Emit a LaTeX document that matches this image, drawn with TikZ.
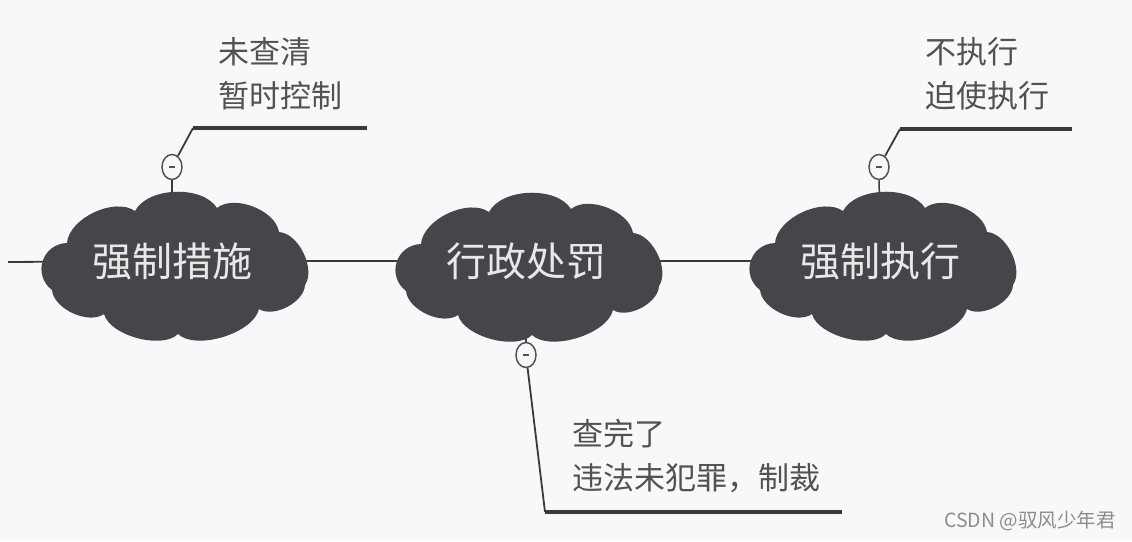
\documentclass[tikz,border=0pt]{standalone}
\usepackage{fontspec}
\newfontfamily\cjk{Noto Sans CJK SC}
\usetikzlibrary{shapes.geometric}
\definecolor{bgc}{RGB}{248,247,250}
\definecolor{cloudc}{RGB}{71,69,74}
\definecolor{linec}{RGB}{58,58,60}
\definecolor{labc}{RGB}{82,82,84}
\definecolor{cloudtxt}{RGB}{232,232,234}
\definecolor{wmc}{RGB}{140,140,142}
\pgfdeclarelayer{bg}
\pgfdeclarelayer{mid}
\pgfsetlayers{bg,mid,main}
\tikzset{
  cloudtext/.style={inner sep=0pt, text=cloudtxt, font=\cjk\fontsize{40}{48}\selectfont},
  labeltext/.style={inner sep=0pt, anchor=west, align=left, text=labc, font=\cjk\fontsize{31}{44}\selectfont},
  togglec/.style={ellipse, draw=labc, line width=1.5pt, fill=bgc, minimum width=20pt, minimum height=25pt, inner sep=0pt,
    path picture={\draw[labc, line width=1.5pt] ([xshift=-3pt]path picture bounding box.center) -- ([xshift=3pt]path picture bounding box.center);}},
  thinline/.style={draw=linec, line width=1.8pt},
  thickline/.style={draw=linec, line width=4pt},
  puff/.style={bend left=60, looseness=0.85},
  cloudpic/.pic={
    \fill[cloudc] (-105,-22) to[puff] (-37,-54)
      to[puff] (45,-57)
      to[puff] (107,-33)
      to[puff] (133,20)
      to[puff] (87,44)
      to[bend left=60, looseness=0.75] (6,69)
      to[bend left=60, looseness=0.75] (-68,49)
      to[puff] (-120,25)
      to[bend left=70, looseness=1.3] (-105,-22)
      -- cycle;
  }
}
\begin{document}
\begin{tikzpicture}[x=1pt,y=-1pt]
\useasboundingbox (0,0) rectangle (1132,541);
\begin{pgfonlayer}{bg}
\fill[bgc] (0,0) rectangle (1132,541);
\end{pgfonlayer}

% cloud text nodes
\node[cloudtext] (c1) at (172,261) {强制措施};
\node[cloudtext] (c2) at (526,261) {行政处罚};
\node[cloudtext] (c3) at (880,261) {强制执行};

% cloud bodies
\begin{pgfonlayer}{mid}
\pic at ([yshift=-4pt]c1.center) {cloudpic};
\pic at ([yshift=-5pt]c2.center) {cloudpic};
\pic at ([yshift=-4pt]c3.center) {cloudpic};
\end{pgfonlayer}

% toggles
\node[togglec] (m1) at (172,167) {};
\node[togglec] (m2) at (526,355) {};
\node[togglec] (m3) at (879,167) {};

% elbow coordinates
\coordinate (s) at (8,262);
\coordinate (e1) at (193,128);
\coordinate (f1) at (367,128);
\coordinate (e3) at (900,129);
\coordinate (f3) at (1072,129);
\coordinate (e2) at (545,512);
\coordinate (f2) at (842,512);

% labels
\node[labeltext] (l1) at (218,74) {未查清\\暂时控制};
\node[labeltext] (l3) at (925,74) {不执行\\迫使执行};
\node[labeltext] (l2) at (572,456) {查完了\\违法未犯罪，制裁};

\node[inner sep=0pt, anchor=east, text=wmc, font=\cjk\fontsize{19.5}{22}\selectfont] (wm) at (1116,521) {CSDN @驭风少年君};

% connectors
\begin{pgfonlayer}{bg}
\draw[thinline] (s) -- (c1) -- (c2) -- (c3);
\draw[thinline, line width=1.5pt] (m1) -- (c1);
\draw[thinline, line width=1.5pt] (m2) -- (c2);
\draw[thinline, line width=1.5pt] (m3) -- (c3);
\draw[thinline] (m1) -- (e1);
\draw[thickline] (e1) -- (f1);
\draw[thinline] (m3) -- (e3);
\draw[thickline] (e3) -- (f3);
\draw[thinline] (m2) -- (e2);
\draw[thickline] (e2) -- (f2);
\end{pgfonlayer}
\end{tikzpicture}
\end{document}
